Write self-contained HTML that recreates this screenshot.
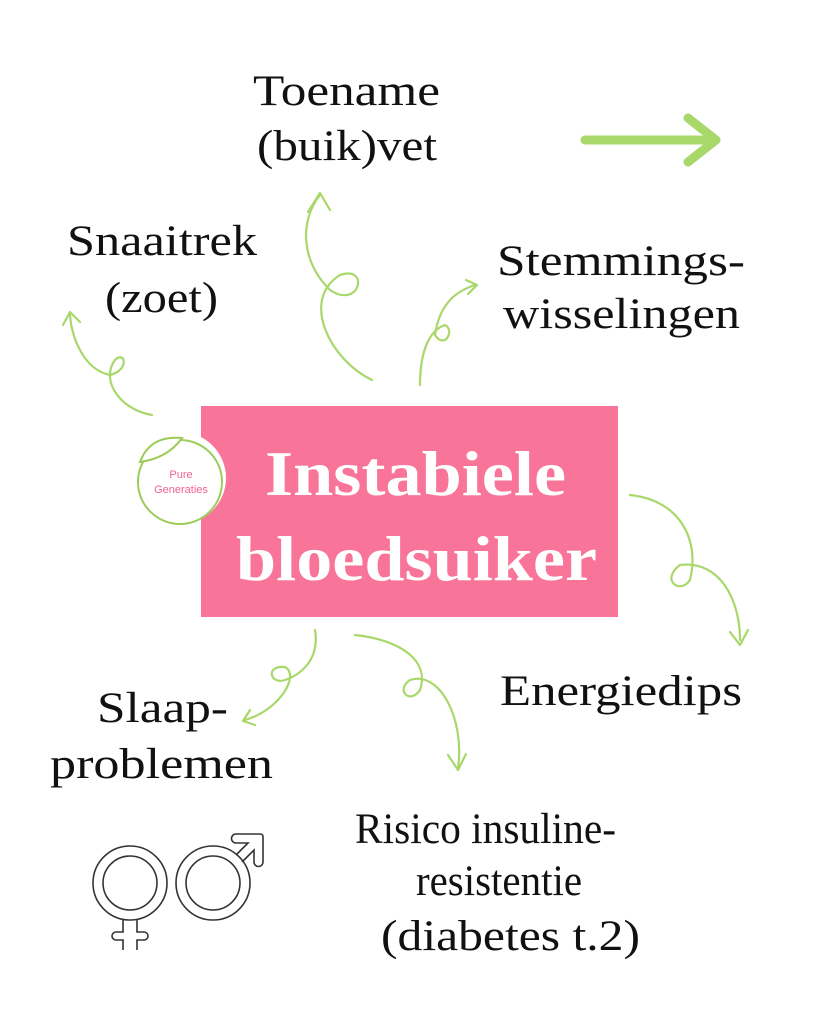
<!DOCTYPE html>
<html><head><style>
html,body{margin:0;padding:0;background:#fff;}
svg{display:block;}
text{font-family:"Liberation Serif",serif;fill:#111;}
</style></head><body>
<svg width="819" height="1024" viewBox="0 0 819 1024" xmlns="http://www.w3.org/2000/svg">
<rect x="201" y="406" width="417" height="211" fill="#f87599"/>
<g font-size="43" lengthAdjust="spacingAndGlyphs">
<text x="253" y="105" textLength="187" lengthAdjust="spacingAndGlyphs">Toename</text>
<text x="257" y="160" textLength="180" lengthAdjust="spacingAndGlyphs">(buik)vet</text>
<text x="67" y="255" textLength="190" lengthAdjust="spacingAndGlyphs">Snaaitrek</text>
<text x="105" y="312" textLength="113" lengthAdjust="spacingAndGlyphs">(zoet)</text>
<text x="497" y="275" textLength="248" lengthAdjust="spacingAndGlyphs">Stemmings-</text>
<text x="503" y="328" textLength="237" lengthAdjust="spacingAndGlyphs">wisselingen</text>
<text x="500" y="705" textLength="242" lengthAdjust="spacingAndGlyphs">Energiedips</text>
<text x="97" y="722" textLength="131" lengthAdjust="spacingAndGlyphs">Slaap-</text>
<text x="50" y="778" textLength="223" lengthAdjust="spacingAndGlyphs">problemen</text>
<text x="355" y="843" textLength="261" lengthAdjust="spacingAndGlyphs">Risico insuline-</text>
<text x="416" y="895" textLength="166" lengthAdjust="spacingAndGlyphs">resistentie</text>
<text x="381" y="950" textLength="259" lengthAdjust="spacingAndGlyphs">(diabetes t.2)</text>
</g>
<g font-size="64" font-weight="bold">
<text x="265" y="495" textLength="301" lengthAdjust="spacingAndGlyphs" style="fill:#fff">Instabiele</text>
<text x="236" y="580" textLength="361" lengthAdjust="spacingAndGlyphs" style="fill:#fff">bloedsuiker</text>
</g>
<!-- logo -->
<circle cx="180" cy="478" r="46" fill="#fff"/>
<circle cx="180" cy="482" r="42" fill="none" stroke="#9ccc5a" stroke-width="2"/>
<path d="M140 462 Q150 435 182 438 Q168 458 140 462Z" fill="#fff" stroke="#9ccc5a" stroke-width="2"/>
<text x="181" y="478" font-size="11" text-anchor="middle" style="fill:#f06292;font-family:'Liberation Sans',sans-serif">Pure</text>
<text x="181" y="493" font-size="11" text-anchor="middle" style="fill:#f06292;font-family:'Liberation Sans',sans-serif">Generaties</text>
<!-- arrows -->
<g fill="none" stroke="#a8d86a" stroke-width="2.2" stroke-linecap="round" stroke-linejoin="round">
<path d="M585 140 H712" stroke-width="9"/>
<path d="M688 118 L716 140 L688 162" stroke-width="9"/>
<path d="M372 380 C330 360 300 300 340 275 C370 265 360 310 330 290 C300 260 300 220 320 195"/>
<path d="M308 212 L320 193 L330 210"/>
<path d="M152 415 C120 410 100 380 115 360 C125 350 130 370 110 375 C85 370 72 340 70 315"/>
<path d="M63 325 L70 312 L80 322"/>
<path d="M420 385 C420 350 430 330 445 325 C455 330 445 350 435 335 C440 300 460 290 475 285"/>
<path d="M466 280 L477 285 L468 294"/>
<path d="M630 495 C680 500 700 540 690 580 C680 595 660 580 680 565 C720 560 740 600 740 640"/>
<path d="M730 632 L740 645 L748 630"/>
<path d="M315 630 C320 660 300 675 285 680 C270 685 265 665 285 667 C300 675 280 710 245 720"/>
<path d="M250 710 L243 721 L255 725"/>
<path d="M355 635 C400 640 430 660 420 690 C410 705 395 690 410 680 C440 670 465 720 458 768"/>
<path d="M448 755 L458 770 L466 754"/>
</g>
<!-- gender symbols -->
<g fill="none" stroke="#333" stroke-width="1.6">
<circle cx="130" cy="883" r="37"/>
<circle cx="130" cy="883" r="27"/>
<path d="M123 919 V932 H116 A4 4 0 0 0 116 940 H123 V950 M137 919 V932 H144 A4 4 0 0 1 144 940 H137 V950"/>
<circle cx="213" cy="883" r="37"/>
<circle cx="213" cy="883" r="27"/>
<path d="M236 855 L248 843 L236 843 A3 3 0 0 1 236 834 L260 834 Q263 834 263 837 L263 862 A3 3 0 0 1 254 862 L254 850 L242 862"/>
</g>
</svg>
</body></html>
